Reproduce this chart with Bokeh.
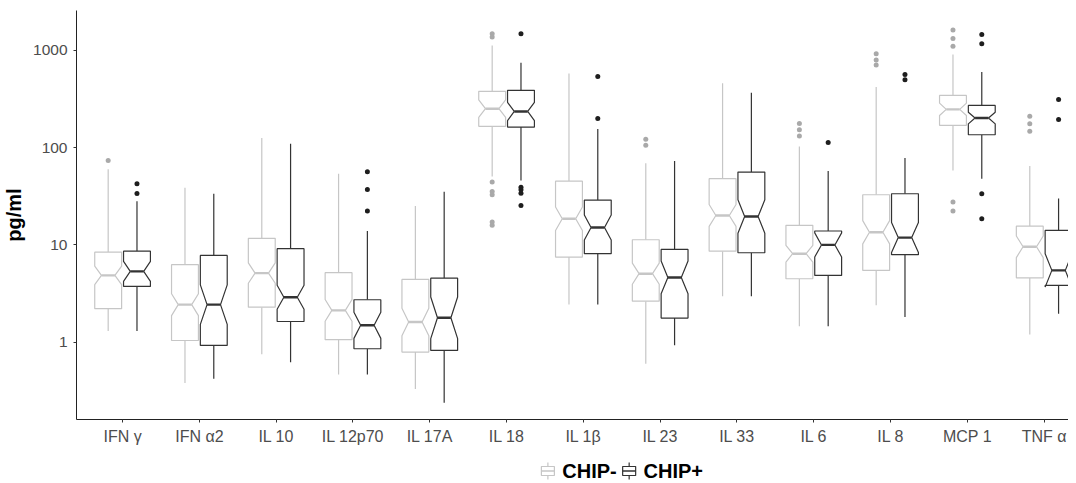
import numpy as np
from bokeh.plotting import figure
from bokeh.layouts import column
from bokeh.models import Range1d, FixedTicker, ColumnDataSource, PrintfTickFormatter
from bokeh.core.properties import value
from bokeh.embed import file_html
from bokeh.resources import INLINE

cytokines = ["IFN γ", "IFN α2", "IL 10", "IL 12p70", "IL 17A", "IL 18", "IL 1β",
             "IL 23", "IL 33", "IL 6", "IL 8", "MCP 1", "TNF α"]
group_labels = ["CHIP-", "CHIP+"]

# CHIP- (grey)
minus_lo = [1.30, 0.38, 0.75, 0.465, 0.33, 50.7, 2.44, 0.60, 2.97, 1.46, 2.40, 58.4, 1.20]
minus_q1 = [2.21, 1.04, 2.29, 1.06, 0.79, 166, 7.49, 2.64, 8.63, 4.49, 5.47, 170, 4.59]
minus_med = [4.86, 2.43, 5.13, 2.12, 1.61, 252, 18.6, 5.06, 20.1, 8.12, 13.5, 248, 9.57]
minus_q3 = [8.43, 6.26, 11.7, 5.18, 4.42, 380, 45.3, 11.3, 48.0, 15.9, 32.8, 345, 15.6]
minus_hi = [60, 38.7, 126, 54, 25.1, 1128, 581, 69, 459, 103, 420, 912, 65]
minus_out = [[74], [], [], [], [], [1489, 1374, 44.3, 35.5, 32.8, 17.2, 15.9], [],
             [122, 106], [], [177, 153, 132], [925, 797, 708],
             [1622, 1331, 1109, 27.6, 22.3], [211, 176, 148]]
minus_n = [95, 120, 115, 95, 70, 40, 105, 85, 110, 100, 105, 58, 57]

# CHIP+ (black)
plus_lo = [1.30, 0.42, 0.62, 0.465, 0.238, 46.1, 2.44, 0.93, 2.97, 1.46, 1.81, 48.0, 1.96]
plus_q1 = [3.74, 0.925, 1.63, 0.855, 0.822, 163, 8.12, 1.77, 8.31, 4.86, 7.93, 136, 3.83]
plus_med = [5.34, 2.43, 2.90, 1.49, 1.78, 236, 15.1, 4.63, 19.6, 10.0, 11.9, 202, 5.47]
plus_q3 = [8.63, 7.80, 9.14, 2.73, 4.55, 389, 28.9, 8.99, 56.1, 13.9, 33.6, 272, 14.1]
plus_hi = [28.2, 33.6, 110, 13.9, 35.2, 749, 156, 72.8, 367, 57.5, 78.2, 600, 30.1]
plus_out = [[42.5, 33.9], [], [], [56.5, 37.2, 22.3], [], [1489, 39.3, 37.0, 34.1, 25.5],
            [541, 200], [], [], [113], [568, 500], [1465, 1175, 33.6, 18.6], [314, 195]]
plus_n = [31, 52, 92, 35, 30, 40, 46, 44, 58, 34, 41, 63, 27]

y_ticks = [1, 10, 100, 1000]

# ---- style / layout constants ----
LINE_COLORS = ["#c6c6c6", "#333333"]
OUT_COLORS = ["#a9a9a9", "#1e1e1e"]
DODGE = 0.1875
HALF_W = 0.175
INDENT = 0.5 * HALF_W
FONT = "Liberation Sans"

LEFT = 76
FRAME_W = 992
FRAME_H = 409
TOP = 10
BOTTOM = 30
W = LEFT + FRAME_W
MAIN_H = TOP + FRAME_H + BOTTOM
LEG_H = 32

p = figure(frame_width=FRAME_W, frame_height=FRAME_H, y_axis_type="log",
           x_range=Range1d(-0.6, -0.6 + FRAME_W / 76.8), y_range=Range1d(0.160, 2579),
           output_backend="svg", toolbar_location=None,
           min_border_left=LEFT, min_border_right=0, min_border_top=TOP,
           min_border_bottom=BOTTOM, align="start",
           background_fill_color="white", border_fill_color="white")
p.outline_line_color = None
p.grid.visible = False


def build(lo, q1, med, q3, hi, out, n, shift):
    xs, ys, mx0, mx1, my = [], [], [], [], []
    wx, wy0, wy1 = [], [], []
    ox, oy = [], []
    for i in range(len(cytokines)):
        c = i + shift
        l1, lm, l3 = np.log10(q1[i]), np.log10(med[i]), np.log10(q3[i])
        k = 1.58 * (l3 - l1) / np.sqrt(n[i])
        nu, nl = 10 ** (lm + k), 10 ** (lm - k)
        x0, x1 = c - HALF_W, c + HALF_W
        xs.append([x0, x0, x0 + INDENT, x0, x0, x1, x1, x1 - INDENT, x1, x1])
        ys.append([q3[i], nu, med[i], nl, q1[i], q1[i], nl, med[i], nu, q3[i]])
        mx0.append(x0 + INDENT)
        mx1.append(x1 - INDENT)
        my.append(med[i])
        wx += [c, c]
        wy0 += [q3[i], q1[i]]
        wy1 += [hi[i], lo[i]]
        for v in out[i]:
            ox.append(c)
            oy.append(v)
    return (dict(xs=xs, ys=ys), dict(x0=mx0, x1=mx1, y=my),
            dict(x=wx, y0=wy0, y1=wy1), dict(x=ox, y=oy))


groups = [
    (minus_lo, minus_q1, minus_med, minus_q3, minus_hi, minus_out, minus_n, -DODGE),
    (plus_lo, plus_q1, plus_med, plus_q3, plus_hi, plus_out, plus_n, DODGE),
]

for gi, (lo, q1, med, q3, hi, out, n, shift) in enumerate(groups):
    col, ocol = LINE_COLORS[gi], OUT_COLORS[gi]
    box, mline, whisk, outl = build(lo, q1, med, q3, hi, out, n, shift)
    p.segment(x0="x", y0="y0", x1="x", y1="y1", source=ColumnDataSource(whisk),
              line_color=col, line_width=1.2)
    p.patches(xs="xs", ys="ys", source=ColumnDataSource(box), fill_color="white",
              line_color=col, line_width=1.2)
    p.segment(x0="x0", y0="y", x1="x1", y1="y", source=ColumnDataSource(mline),
              line_color=col, line_width=2.4)
    p.scatter(x="x", y="y", source=ColumnDataSource(outl), size=5, fill_color=ocol,
              line_color=None)

for ax in (p.xaxis[0], p.yaxis[0]):
    ax.axis_line_color = "#222222"
    ax.axis_line_width = 1
    ax.major_tick_line_color = "#333333"
    ax.major_tick_out = 3
    ax.major_tick_in = 0
    ax.minor_tick_line_color = None
    ax.major_label_text_color = "#4d4d4d"
    ax.major_label_text_font = FONT

p.xaxis.ticker = FixedTicker(ticks=list(range(len(cytokines))))
p.xaxis.major_label_overrides = {i: name for i, name in enumerate(cytokines)}
p.xaxis.major_label_text_font_size = "16px"
p.xaxis.major_label_standoff = 5

p.yaxis.ticker = FixedTicker(ticks=y_ticks)
p.yaxis.formatter = PrintfTickFormatter(format="%d")
p.yaxis.major_label_text_font_size = "15.5px"
p.yaxis.major_label_standoff = 6
p.yaxis.axis_label = "pg/ml"
p.yaxis.axis_label_text_font = FONT
p.yaxis.axis_label_text_font_style = "bold"
p.yaxis.axis_label_text_font_size = "20px"
p.yaxis.axis_label_text_color = "black"
p.yaxis.axis_label_standoff = 5

# ---- legend strip (separate figure under the plot) ----
lf = figure(width=W, height=LEG_H, x_range=Range1d(0, W), y_range=Range1d(0, LEG_H),
            min_border=0, min_border_left=0, min_border_right=0,
            min_border_top=0, min_border_bottom=0, align="start",
            output_backend="svg", toolbar_location=None,
            x_axis_type=None, y_axis_type=None,
            background_fill_color="white", border_fill_color="white")
lf.outline_line_color = None

KEY_CX = [507.5, 595.0]
KEY_HALF = 7
BOX_HALF_H = 4.5
WHISK = 4
LABEL_GAP = 15.5
YC = 10.5

for gi, lab in enumerate(group_labels):
    col = LINE_COLORS[gi]
    cx = KEY_CX[gi]
    lf.segment(x0=[cx, cx], y0=[YC + BOX_HALF_H, YC - BOX_HALF_H],
               x1=[cx, cx], y1=[YC + BOX_HALF_H + WHISK, YC - BOX_HALF_H - WHISK],
               line_color=col, line_width=1.2)
    lf.quad(left=[cx - KEY_HALF], right=[cx + KEY_HALF], bottom=[YC - BOX_HALF_H],
            top=[YC + BOX_HALF_H], fill_color="white", line_color=col, line_width=1.2)
    lf.segment(x0=[cx - KEY_HALF], y0=[YC], x1=[cx + KEY_HALF], y1=[YC],
               line_color=col, line_width=1.6)
    lf.text(x=[cx + LABEL_GAP], y=[YC], text=[lab], text_font=value(FONT),
            text_font_style="bold", text_font_size="20px", text_color="black",
            text_baseline="middle", text_align="left")

layout = column(p, lf, spacing=0, align="start")
open("out.html", "w").write(file_html(layout, INLINE))
